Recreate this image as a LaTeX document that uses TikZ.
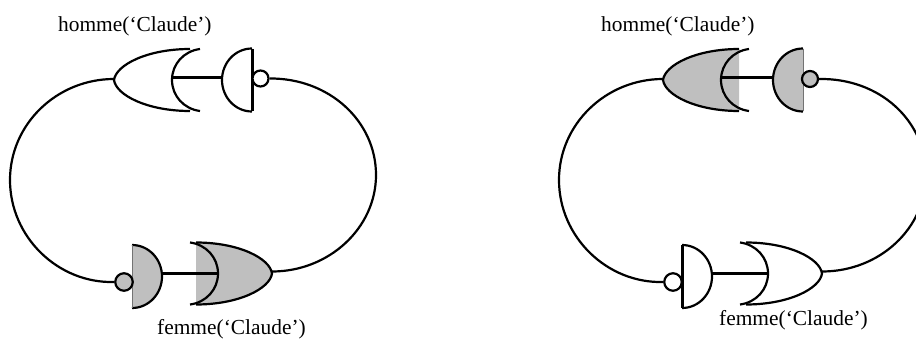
\documentclass[tikz,border=0pt]{standalone}
\usepackage{fontspec}
\setmainfont{Liberation Serif}
\definecolor{gategrey}{gray}{0.75}
\tikzset{
  wire/.style={line width=2.2pt},
  bus/.style={line width=3pt},
  gatelabel/.style={font=\fontsize{21.4}{26}\selectfont, inner sep=0pt, anchor=base west},
  bubble/.style={circle, draw, line width=2.2pt, minimum size=16pt, inner sep=0pt},
  pics/orgate/.style args={#1/#2}{code={
    \fill[#1] (0,0) .. controls (2,-15) and (33,-31) .. (76,-31) -- (76,31) .. controls (33,31) and (2,15) .. (0,0);
    \draw[wire] (76,-31) .. controls (33,-31) and (2,-15) .. (0,0) .. controls (2,15) and (33,31) .. (76,31);
    \draw[wire] (#2+28,-31) .. controls (#2+12,-29) and (#2,-16) .. (#2,0) .. controls (#2,16) and (#2+12,29) .. (#2+28,31);
  }},
  pics/andgate/.style={code={
    \fill[#1] (0,-31.5) .. controls (17,-31.5) and (30,-17) .. (30,0) .. controls (30,17) and (17,31.5) .. (0,31.5) -- cycle;
    \draw[wire] (0,-31.5) .. controls (17,-31.5) and (30,-17) .. (30,0) .. controls (30,17) and (17,31.5) .. (0,31.5);
  }},
}
\begin{document}
\begin{tikzpicture}[x=1pt, y=-1pt]
\useasboundingbox (0,0) rectangle (916,342);
\clip (0,0) rectangle (916,342);

% left circuit
\pic at (114,80) {orgate=white/58};
\pic[xscale=-1] at (252,80) {andgate=white};
\draw[bus] (252,49) -- (252,111);
\node[bubble, fill=white] (notA) at (260.5,78.5) {};
\pic[xscale=-1] at (272,273.5) {orgate=gategrey/54};
\pic at (132,276.5) {andgate=gategrey};
\draw[gategrey!60!black, line width=0.8pt] (132,245) -- (132,308);
\node[bubble, fill=gategrey, minimum size=17.5pt] (notB) at (124,282) {};
\coordinate (orA) at (114,79);
\coordinate (orB) at (272,271.5);
\draw[bus] (172,78) -- (223,78);
\draw[bus] (162,273) -- (218,273);
\draw[wire] (notA.east) .. controls (329,78) and (376,121) .. (376,175) .. controls (376,228) and (329,271.5) .. (orB);
\draw[wire] (orA) .. controls (57,79) and (10,124) .. (10,180) .. controls (10,237) and (58,283.5) .. (notB.west);

% right circuit
\pic at (663,80) {orgate=gategrey/58};
\pic[xscale=-1] at (803,80) {andgate=gategrey};
\draw[gategrey!60!black, line width=0.8pt] (803,49) -- (803,111);
\node[bubble, fill=gategrey] (notC) at (810,79) {};
\pic[xscale=-1] at (822,273.5) {orgate=white/54};
\pic at (682,276.5) {andgate=white};
\draw[bus] (682,245) -- (682,308);
\node[bubble, fill=white, minimum size=17.5pt] (notD) at (673,282) {};
\coordinate (orC) at (663,79);
\coordinate (orD) at (822,271.5);
\draw[bus] (721,78) -- (773,78);
\draw[bus] (712,273) -- (768,273);
\draw[wire] (notC.east) .. controls (880,78) and (926,121) .. (926,175) .. controls (926,228) and (880,271.5) .. (orD);
\draw[wire] (orC) .. controls (606,79) and (559,124) .. (559,180) .. controls (559,237) and (607,283.5) .. (notD.west);

\node[gatelabel] (homA) at (58,32) {homme(‘Claude’)};
\node[gatelabel] (femA) at (157,334) {femme(‘Claude’)};
\node[gatelabel] (homC) at (601,32) {homme(‘Claude’)};
\node[gatelabel] (femD) at (719,325) {femme(‘Claude’)};
\end{tikzpicture}
\end{document}
